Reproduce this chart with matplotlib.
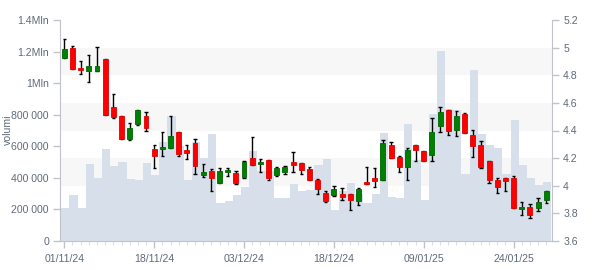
import matplotlib
matplotlib.use("Agg")
import matplotlib.pyplot as plt
import numpy as np

dates = ["01/11/24", "18/11/24", "03/12/24", "18/12/24", "09/01/25", "24/01/25"]
date_idx = [0, 11, 22, 33, 44, 55]

opens = [4.927, 4.997, 4.852, 4.833, 4.833, 4.918, 4.568, 4.505, 4.341, 4.447,
         4.505, 4.264, 4.268, 4.276, 4.389, 4.259, 4.309, 4.080, 4.104, 4.022,
         4.097, 4.092, 4.066, 4.201, 4.160, 4.186, 4.078, 4.100, 4.169, 4.165,
         4.121, 4.042, 3.947, 3.933, 3.940, 3.940, 3.892, 4.027, 4.056, 4.044,
         4.295, 4.208, 4.138, 4.295, 4.252, 4.225, 4.435, 4.548, 4.406, 4.519,
         4.365, 4.295, 4.179, 4.039, 4.054, 4.058, 3.832, 3.844, 3.839, 3.899]
highs = [5.060, 5.009, 4.901, 4.944, 5.002, 4.918, 4.662, 4.505, 4.452, 4.548,
         4.531, 4.293, 4.387, 4.502, 4.389, 4.293, 4.336, 4.155, 4.119, 4.126,
         4.126, 4.104, 4.177, 4.350, 4.191, 4.186, 4.136, 4.143, 4.242, 4.165,
         4.133, 4.049, 3.960, 3.996, 3.981, 3.940, 3.981, 4.136, 4.126, 4.329,
         4.314, 4.215, 4.273, 4.295, 4.252, 4.488, 4.568, 4.548, 4.539, 4.524,
         4.401, 4.322, 4.179, 4.054, 4.054, 4.068, 3.880, 3.865, 3.909, 3.960]
lows = [4.927, 4.848, 4.809, 4.749, 4.833, 4.515, 4.488, 4.336, 4.329, 4.437,
        4.399, 4.126, 4.213, 4.276, 4.213, 4.191, 4.083, 4.061, 3.960, 4.022,
        4.068, 4.010, 4.054, 4.153, 4.102, 4.039, 4.068, 4.083, 4.102, 4.083,
        4.044, 3.938, 3.880, 3.926, 3.894, 3.822, 3.858, 4.015, 3.989, 4.044,
        4.203, 4.097, 4.039, 4.182, 4.182, 4.177, 4.387, 4.365, 4.358, 4.384,
        4.206, 4.126, 4.017, 3.945, 3.964, 3.841, 3.786, 3.764, 3.815, 3.877]
closes = [4.988, 4.848, 4.840, 4.867, 4.867, 4.515, 4.500, 4.341, 4.418, 4.548,
          4.420, 4.218, 4.280, 4.360, 4.232, 4.239, 4.145, 4.097, 4.058, 4.107,
          4.112, 4.022, 4.172, 4.153, 4.174, 4.058, 4.128, 4.138, 4.153, 4.116,
          4.044, 3.976, 3.890, 3.976, 3.921, 3.899, 3.976, 4.015, 4.034, 4.309,
          4.203, 4.138, 4.259, 4.261, 4.182, 4.389, 4.534, 4.399, 4.505, 4.384,
          4.290, 4.138, 4.044, 3.993, 4.037, 3.841, 3.844, 3.786, 3.882, 3.960]
volumes = [209e3, 291e3, 209e3, 488e3, 399e3, 583e3, 477e3, 500e3, 393e3, 386e3,
           494e3, 418e3, 629e3, 792e3, 600e3, 386e3, 627e3, 526e3, 678e3, 243e3,
           255e3, 291e3, 342e3, 570e3, 443e3, 443e3, 274e3, 274e3, 361e3, 317e3,
           323e3, 481e3, 519e3, 196e3, 317e3, 367e3, 298e3, 241e3, 298e3, 682e3,
           281e3, 272e3, 741e3, 513e3, 260e3, 805e3, 1204e3, 836e3, 830e3, 425e3,
           1083e3, 678e3, 608e3, 591e3, 425e3, 767e3, 482e3, 399e3, 355e3, 374e3]

vol_ticks = [0, 200e3, 400e3, 600e3, 800e3, 1e6, 1.2e6, 1.4e6]
vol_labels = ["0", "200 000", "400 000", "600 000", "800 000", "1Mln", "1.2Mln", "1.4Mln"]
price_ticks = [3.6, 3.8, 4.0, 4.2, 4.4, 4.6, 4.8, 5.0, 5.2]
price_labels = ["3.6", "3.8", "4", "4.2", "4.4", "4.6", "4.8", "5", "5.2"]

plt.rcParams['font.family'] = ['Liberation Sans', 'DejaVu Sans']
TXT = "#5f6b7a"
AXC = "#c0c4c8"
FS = 7.6

fig = plt.figure(figsize=(6, 2.7), dpi=100)
ax = fig.add_axes([0.1, 1 - 241 / 270, 0.92 - 0.1, (241 - 20) / 270])
ax2 = ax.twinx()

n = len(opens)
x = np.arange(n)
vmin, vmax = 0, 1.4e6
pmin, pmax = 3.6, 5.2

def p2v(p):
    return (p - pmin) / (pmax - pmin) * (vmax - vmin) + vmin

# alternating bands
for k in range(len(price_ticks) - 1):
    if k % 2 == 0:
        ax.axhspan(p2v(price_ticks[k]), p2v(price_ticks[k + 1]), color="#f7f7f7", lw=0, zorder=0)

ax.bar(x + 0.12, volumes, width=1.0, color="#d7e0ea", lw=0, zorder=1)
ax.set_ylim(vmin, vmax)
ax.set_xlim(-0.53, 59.7)

o = np.array(opens); c = np.array(closes); h = np.array(highs); l = np.array(lows)
up = c >= o
ax2.vlines(x, l, h, color="black", lw=1.0, zorder=2)
cap = 0.2
ax2.hlines(h, x - cap, x + cap, color="black", lw=1.0, zorder=2)
ax2.hlines(l, x - cap, x + cap, color="black", lw=1.0, zorder=2)
bottoms = np.minimum(o, c)
heights = np.maximum(np.abs(c - o), 0.012)
ax2.bar(x[up], heights[up], bottom=bottoms[up], width=0.6, color="#008000",
        edgecolor="#006400", lw=0.6, zorder=3)
ax2.bar(x[~up], heights[~up], bottom=bottoms[~up], width=0.6, color="#ff0000",
        edgecolor="#dd0000", lw=0.6, zorder=3)
ax2.set_ylim(pmin, pmax)

ax.set_yticks(vol_ticks)
ax.set_yticklabels(vol_labels)
ax2.set_yticks(price_ticks)
ax2.set_yticklabels(price_labels)
ax.set_xticks(date_idx)
ax.set_xticklabels(dates)
ax.set_xticks(x, minor=True)

for a in (ax, ax2):
    for s in a.spines.values():
        s.set_visible(False)
ax.spines['left'].set_visible(True)
ax.spines['left'].set_color(AXC)
ax.spines['bottom'].set_visible(True)
ax.spines['bottom'].set_color(AXC)
ax2.spines['right'].set_visible(True)
ax2.spines['right'].set_color(AXC)

ax.tick_params(axis='y', colors=AXC, labelcolor=TXT, labelsize=FS, length=5, width=1, pad=3)
ax2.tick_params(axis='y', colors=AXC, labelcolor=TXT, labelsize=FS, length=5, width=1, pad=3)
ax.tick_params(axis='x', which='major', colors=AXC, labelcolor=TXT, labelsize=FS, length=5, width=1, pad=4)
ax.tick_params(axis='x', which='minor', colors="#dde0e3", length=3, width=0.8)

fig.text(8 / 600, 1 - 130 / 270, "volumi", rotation=90, ha="center", va="center",
         color=TXT, fontsize=FS)

fig.savefig("out.png", dpi=100)
